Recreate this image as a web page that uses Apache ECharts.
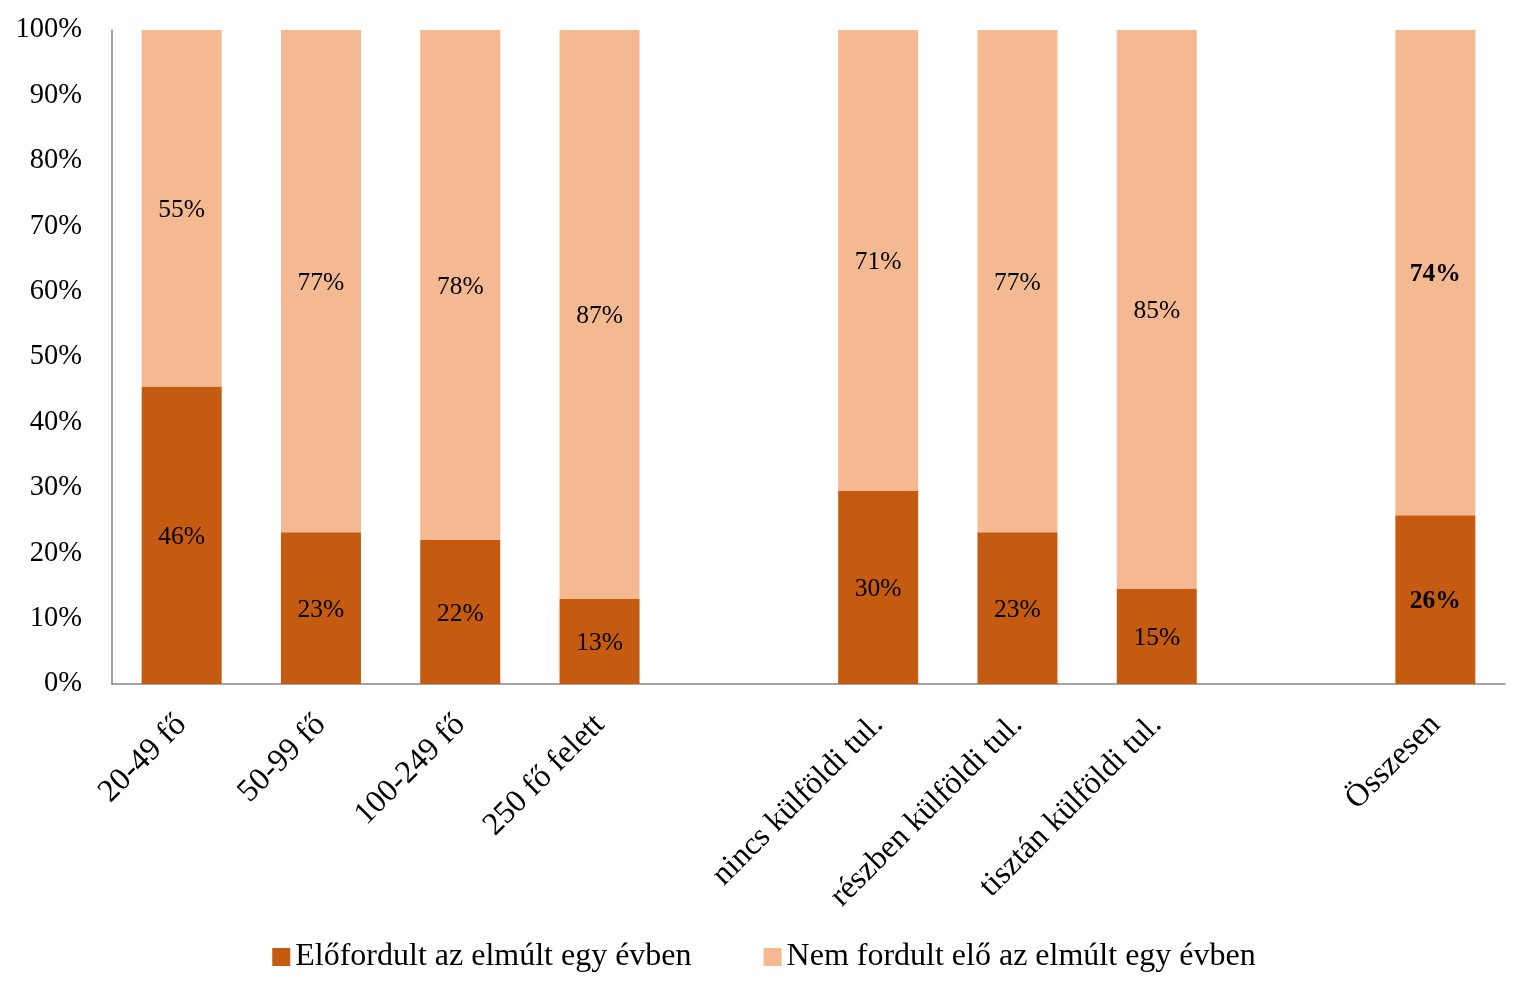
<!DOCTYPE html>
<html>
<head>
<meta charset="utf-8">
<script src="https://cdn.jsdelivr.net/npm/echarts@6/dist/echarts.min.js"></script>
<style>
html,body{margin:0;padding:0;background:#fff;}
#chart{width:1528px;height:994px;}
</style>
</head>
<body>
<div id="chart"></div>
<script>
const categories = ['20-49 fő', '50-99 fő', '100-249 fő', '250 fő felett', '', 'nincs külföldi tul.', 'részben külföldi tul.', 'tisztán külföldi tul.', '', 'Összesen'];
const seriesNames = ['Előfordult az elmúlt egy évben', 'Nem fordult elő az elmúlt egy évben'];
const occurred = [45.5, 23.2, 22.0, 13.0, null, 29.5, 23.2, 14.6, null, 25.8];
const notOccurred = [54.5, 76.8, 78.0, 87.0, null, 70.5, 76.8, 85.4, null, 74.2];
const yTicks = [0, 10, 20, 30, 40, 50, 60, 70, 80, 90, 100];
const boldIndex = 9;

const FONT = '"Liberation Serif", "DejaVu Serif", serif';

function mk(arr) {
  return arr.map((v, i) => {
    if (v === null) return '-';
    if (i === boldIndex) return { value: v, label: { fontWeight: 'bold' } };
    return v;
  });
}

const chart = echarts.init(document.getElementById('chart'), null, { renderer: 'canvas' });
chart.setOption({
  animation: false,
  backgroundColor: '#ffffff',
  textStyle: { fontFamily: FONT },
  grid: { left: 112, right: 23, top: 30, bottom: 310, containLabel: false },
  legend: {
    bottom: 16,
    left: 'center',
    icon: 'rect',
    itemWidth: 18,
    itemHeight: 18,
    itemGap: 72,
    textStyle: { fontFamily: FONT, fontSize: 32, color: '#000' },
    data: seriesNames
  },
  xAxis: {
    type: 'category',
    data: categories,
    axisLine: { show: true, lineStyle: { color: '#868686', width: 1.5 } },
    axisTick: { show: false },
    axisLabel: { interval: 0, rotate: 45, fontFamily: FONT, fontSize: 32, color: '#000', margin: 36 }
  },
  yAxis: {
    type: 'value',
    min: yTicks[0],
    max: yTicks[yTicks.length - 1],
    interval: 10,
    axisLine: { show: true, lineStyle: { color: '#868686', width: 1.5 } },
    axisTick: { show: false },
    splitLine: { show: false },
    axisLabel: { formatter: v => v + '%', fontFamily: FONT, fontSize: 28.5, color: '#000', margin: 30 }
  },
  series: [
    {
      name: seriesNames[0], type: 'bar', stack: 'a', barWidth: 80,
      itemStyle: { color: '#C55A11' },
      label: { show: true, position: 'inside', offset: [0, 2], formatter: p => Math.round(p.value) + '%', fontFamily: FONT, fontSize: 25.5, color: '#000' },
      data: mk(occurred)
    },
    {
      name: seriesNames[1], type: 'bar', stack: 'a', barWidth: 80,
      itemStyle: { color: '#F4B990' },
      label: { show: true, position: 'inside', offset: [0, 2], formatter: p => Math.round(p.value) + '%', fontFamily: FONT, fontSize: 25.5, color: '#000' },
      data: mk(notOccurred)
    }
  ]
});
</script>
</body>
</html>
